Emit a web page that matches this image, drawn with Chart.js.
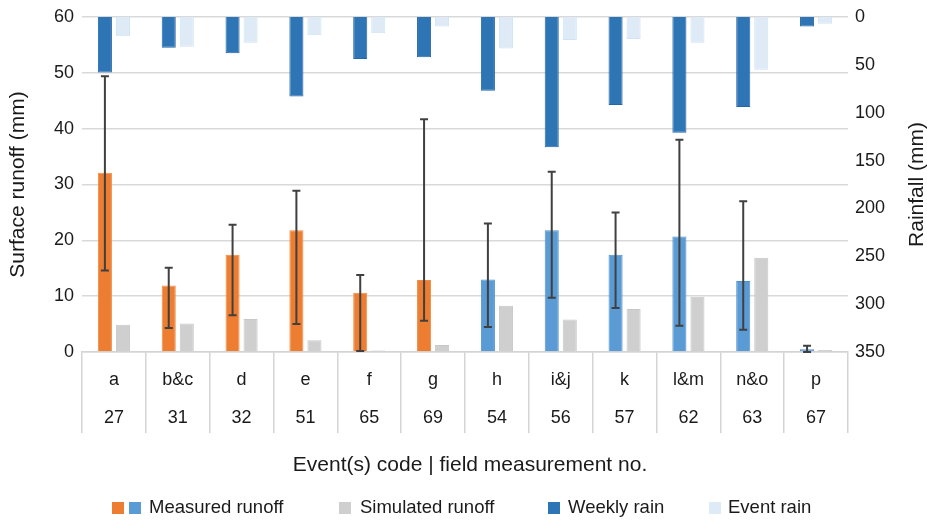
<!DOCTYPE html>
<html>
<head>
<meta charset="utf-8">
<script src="https://cdn.jsdelivr.net/npm/chart.js@4.4.0/dist/chart.umd.min.js"></script>
<style>
  html, body { margin: 0; padding: 0; background: #fff; }
</style>
</head>
<body>
<canvas id="chart" width="927" height="523"></canvas>
<script>
// values
const eventCodes = ["a", "b&c", "d", "e", "f", "g", "h", "i&j", "k", "l&m", "n&o", "p"];
const fieldNos = ["27", "31", "32", "51", "65", "69", "54", "56", "57", "62", "63", "67"];
const measuredRunoff = [32.1, 11.9, 17.4, 21.8, 10.6, 12.9, 13.0, 21.8, 17.4, 20.7, 12.7, 0.5];
const measuredLow = [14.6, 4.3, 6.6, 5.0, 0.2, 5.6, 4.5, 9.7, 7.9, 4.7, 4.0, 0.0];
const measuredHigh = [49.4, 15.1, 22.8, 28.9, 13.8, 41.7, 23.0, 32.3, 25.0, 38.0, 27.0, 1.1];
const simulatedRunoff = [4.9, 5.1, 5.9, 2.1, 0.25, 1.25, 8.3, 5.8, 7.7, 9.9, 16.9, 0.35];
const weeklyRain = [58, 32, 38, 83, 44, 42, 77, 136, 92, 121, 94, 10];
const eventRain = [20, 31, 27, 19, 17, 10, 33, 24, 23, 27, 55, 7];

const FONT = "'Liberation Sans', Arial, sans-serif";
const TEXT = "#1a1a1a";
const ORANGE = "#ED7D31";
const BLUE = "#5B9BD5";
const GREY = "#D0CFCF";
const WEEKLY = "#2E75B6";
const EVENT = "#DEEBF7";

// first six events plotted orange, the rest blue
const measuredColors = eventCodes.map((_, i) => (i < 6 ? ORANGE : BLUE));
const measuredBorders = eventCodes.map((_, i) => (i < 6 ? "#f08a45" : "#4f90cc"));

const errorBars = {
  id: "errorBars",
  afterDatasetsDraw(chart) {
    const meta = chart.getDatasetMeta(0);
    const y = chart.scales.y;
    const ctx = chart.ctx;
    ctx.save();
    ctx.strokeStyle = "#404040";
    ctx.lineWidth = 2;
    meta.data.forEach((bar, i) => {
      const x = bar.x;
      const hi = y.getPixelForValue(measuredHigh[i]);
      const lo = y.getPixelForValue(measuredLow[i]);
      ctx.beginPath();
      ctx.moveTo(x, hi); ctx.lineTo(x, lo);
      ctx.moveTo(x - 4, hi); ctx.lineTo(x + 4, hi);
      ctx.moveTo(x - 4, lo); ctx.lineTo(x + 4, lo);
      ctx.stroke();
    });
    ctx.restore();
  }
};

// right title (reads bottom-up), x title and the legend
const extraText = {
  id: "extraText",
  afterDraw(chart) {
    const ctx = chart.ctx;
    const area = chart.chartArea;
    ctx.save();
    ctx.fillStyle = TEXT;
    ctx.textBaseline = "middle";

    ctx.font = "21px " + FONT;
    ctx.save();
    ctx.translate(917, (area.top + area.bottom) / 2);
    ctx.rotate(-Math.PI / 2);
    ctx.textAlign = "center";
    ctx.fillText("Rainfall (mm)", 0, 0);
    ctx.restore();

    ctx.textAlign = "center";
    ctx.fillText("Event(s) code | field measurement no.", 470, 465);

    ctx.font = "18.5px " + FONT;
    ctx.textAlign = "left";
    const items = [
      { swatches: [[112, ORANGE], [129, BLUE]], text: "Measured runoff", tx: 149 },
      { swatches: [[339, GREY]], text: "Simulated runoff", tx: 360 },
      { swatches: [[548, WEEKLY]], text: "Weekly rain", tx: 568 },
      { swatches: [[709, EVENT]], text: "Event rain", tx: 728 }
    ];
    items.forEach(item => {
      item.swatches.forEach(s => {
        ctx.fillStyle = s[1];
        ctx.fillRect(s[0], 502, 12, 12);
      });
      ctx.fillStyle = TEXT;
      ctx.fillText(item.text, item.tx, 508);
    });
    ctx.restore();
  }
};

const ctx = document.getElementById("chart").getContext("2d");
new Chart(ctx, {
  type: "bar",
  data: {
    labels: eventCodes.map((c, i) => [c, fieldNos[i]]),
    datasets: [
      {
        label: "Measured runoff",
        data: measuredRunoff,
        yAxisID: "y",
        stack: "first",
        backgroundColor: measuredColors,
        borderColor: measuredBorders,
        borderWidth: 1
      },
      {
        label: "Weekly rain",
        data: weeklyRain,
        yAxisID: "y2",
        stack: "first",
        backgroundColor: WEEKLY,
        borderColor: "#2566a6",
        borderWidth: 1
      },
      {
        label: "Simulated runoff",
        data: simulatedRunoff,
        yAxisID: "y",
        stack: "second",
        backgroundColor: GREY,
        borderColor: "#c8c7c7",
        borderWidth: 1
      },
      {
        label: "Event rain",
        data: eventRain,
        yAxisID: "y2",
        stack: "second",
        backgroundColor: EVENT,
        borderColor: "#d0e2f3",
        borderWidth: 1
      }
    ]
  },
  options: {
    responsive: false,
    animation: false,
    categoryPercentage: 0.565,
    barPercentage: 0.78,
    layout: { padding: { top: 10, left: 0, right: 0, bottom: 0 } },
    plugins: {
      legend: { display: false },
      tooltip: { enabled: false }
    },
    scales: {
      x: {
        grid: { drawOnChartArea: false, drawTicks: true, tickLength: 81, color: "#d4d4d4", lineWidth: 1.5 },
        border: { display: true, color: "#d4d4d4", width: 1.5 },
        ticks: {
          font: { family: FONT, size: 18, lineHeight: "38px" },
          color: TEXT,
          padding: -72,
          maxRotation: 0,
          autoSkip: false
        },
        afterFit(scale) { scale.height = 171; }
      },
      y: {
        position: "left",
        min: 0,
        max: 60,
        stacked: false,
        ticks: { stepSize: 10, padding: 8, color: TEXT, font: { family: FONT, size: 18, lineHeight: 1 } },
        grid: { color: "#d9d9d9", lineWidth: 1.5, drawTicks: false },
        border: { display: false },
        title: {
          display: true,
          text: "Surface runoff (mm)",
          color: TEXT,
          font: { family: FONT, size: 21 },
          padding: { top: 6, bottom: 0 }
        },
        afterFit(scale) { scale.width = 82; }
      },
      y2: {
        position: "right",
        reverse: true,
        min: 0,
        max: 350,
        stacked: false,
        ticks: { stepSize: 50, padding: 7, color: TEXT, font: { family: FONT, size: 18, lineHeight: 1 } },
        grid: { display: false, drawTicks: false },
        border: { display: false },
        afterFit(scale) { scale.width = 79; }
      }
    }
  },
  plugins: [errorBars, extraText]
});
</script>
</body>
</html>
